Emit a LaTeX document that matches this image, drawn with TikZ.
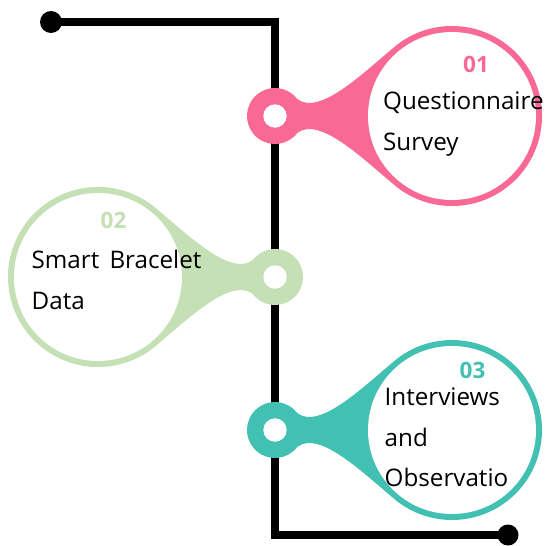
\documentclass[tikz,border=0pt]{standalone}
\usepackage{fontspec}
\setmainfont{Open Sans}
\usetikzlibrary{calc}
\definecolor{pinkpin}{RGB}{250,104,150}
\definecolor{greenpin}{RGB}{197,224,180}
\definecolor{tealpin}{RGB}{66,193,179}
% A pin: small ring at the hub, a tapered neck, and a large ring around the text.
% #1 hub coordinate, #2 direction (1 = right, -1 = left), #3 colour
\newcommand\drawpin[3]{%
  \begin{scope}[shift={(#1)},xscale=#2]
    \fill[#3] (37:28) .. controls (45,0) and (87.8,43) .. (122.84,71.88)
      arc[start angle=127,end angle=-127,radius=90]
      .. controls (87.8,-43) and (45,0) .. (-37:28)
      arc[start angle=-37,end angle=-323,radius=28] -- cycle;
    \fill[white] (177,0) circle[radius=84];
    \fill[white] (0,0) circle[radius=11.7];
  \end{scope}}
\begin{document}
\begin{tikzpicture}[x=1pt,y=1pt,
  spine/.style={line width=8pt,line join=miter},
  body/.style={font=\fontsize{24.2}{28}\selectfont,inner sep=0pt,anchor=base west},
  num/.style={font=\fontsize{22.5}{26}\selectfont\bfseries,inner sep=0pt}]
\useasboundingbox (0,0) rectangle (545,-546);
% timeline spine
\coordinate (start) at (51,-22);
\coordinate (corner1) at (275,-22);
\coordinate (corner2) at (275,-535);
\coordinate (end) at (508,-535);
\draw[spine] (start) -- (corner1) -- (corner2) -- (end);
\fill (start) circle[radius=11];
\fill (end) circle[radius=10.5];
% pins
\coordinate (hub1) at (275,-116);
\coordinate (hub2) at (275,-277);
\coordinate (hub3) at (275,-430);
\drawpin{hub1}{1}{pinkpin}
\drawpin{hub2}{-1}{greenpin}
\drawpin{hub3}{1}{tealpin}
% labels
\node[num,text=pinkpin] (n1) at (476,-64.7) {01};
\node[body] (q1) at (383,-109.5) {Questionnaire};
\node[body] (q2) at (383,-150) {Survey};
\node[num,text=greenpin] (n2) at (113.5,-220.5) {02};
\node[body] (s1) at (31.5,-268.3) {Smart\hspace{0.42em}Bracelet};
\node[body] (s2) at (31.5,-309.3) {Data};
\node[num,text=tealpin] (n3) at (472.5,-370) {03};
\node[body] (i1) at (384.5,-405) {Interviews};
\node[body] (i2) at (384.5,-446) {and};
\node[body] (i3) at (384.5,-486.7) {Observatio};
\end{tikzpicture}
\end{document}
